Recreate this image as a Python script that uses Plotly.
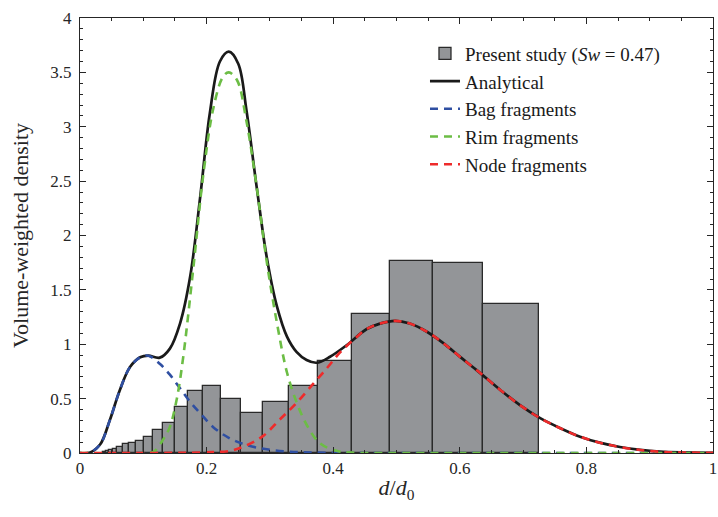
import plotly.graph_objects as go

# ---- histogram data (bin edges and volume-weighted density) ----
bin_edges = [0.0356, 0.0406, 0.0463, 0.0526, 0.0590, 0.0674, 0.0779, 0.0885,
             0.1011, 0.1158, 0.1316, 0.1500, 0.1711, 0.1948, 0.2227, 0.2543,
             0.2896, 0.3307, 0.3765, 0.4290, 0.4897, 0.5580, 0.6360, 0.7256]
bin_density = [0.007, 0.015, 0.025, 0.040, 0.058, 0.080, 0.095, 0.110,
               0.150, 0.210, 0.280, 0.420, 0.570, 0.620, 0.500, 0.370,
               0.470, 0.620, 0.850, 1.280, 1.770, 1.750, 1.370]

# ---- analytical (total) curve ----
total_x = [0, 0.016, 0.032, 0.047, 0.063, 0.079, 0.095, 0.108, 0.126, 0.142,
           0.158, 0.174, 0.19, 0.205, 0.221, 0.235, 0.25, 0.263, 0.279, 0.295,
           0.311, 0.327, 0.342, 0.358, 0.374, 0.395, 0.421, 0.453, 0.474, 0.498,
           0.521, 0.548, 0.574, 0.60, 0.627, 0.664, 0.695, 0.727, 0.758, 0.79,
           0.821, 0.853, 0.885, 0.916, 0.95, 1.0]
total_y = [0, 0.005, 0.08, 0.30, 0.58, 0.79, 0.88, 0.895, 0.877, 0.96,
           1.19, 1.62, 2.36, 3.12, 3.60, 3.69, 3.58, 3.15, 2.45, 1.80,
           1.35, 1.07, 0.93, 0.855, 0.83, 0.885, 0.99, 1.14, 1.19, 1.215,
           1.19, 1.115, 1.01, 0.886, 0.76, 0.58, 0.44, 0.32, 0.23, 0.15,
           0.095, 0.055, 0.028, 0.012, 0.005, 0.002]

# ---- bag fragments ----
bag_x = [0, 0.016, 0.032, 0.047, 0.063, 0.079, 0.095, 0.108, 0.126, 0.142,
         0.158, 0.174, 0.19, 0.21, 0.235, 0.263, 0.295, 0.332, 0.37, 0.42,
         0.5, 0.6, 0.7, 0.8, 0.9, 1.0]
bag_y = [0, 0.005, 0.08, 0.30, 0.58, 0.79, 0.88, 0.895, 0.82, 0.72,
         0.595, 0.47, 0.365, 0.24, 0.14, 0.073, 0.034, 0.012, 0.004, 0.001,
         0, 0, 0, 0, 0, 0]

# ---- rim fragments ----
rim_x = [0, 0.10, 0.116, 0.132, 0.142, 0.153, 0.163, 0.179, 0.195, 0.211,
         0.226, 0.235, 0.248, 0.263, 0.279, 0.295, 0.311, 0.327, 0.342, 0.358,
         0.379, 0.405, 0.43, 0.5, 0.6, 0.8, 1.0]
rim_y = [0, 0, 0.01, 0.13, 0.24, 0.50, 0.88, 1.70, 2.57, 3.18,
         3.46, 3.50, 3.43, 3.05, 2.45, 1.76, 1.20, 0.74, 0.47, 0.26,
         0.09, 0.02, 0.003, 0, 0, 0, 0]

# ---- node fragments ----
node_x = [0, 0.15, 0.2, 0.237, 0.263, 0.29, 0.316, 0.342, 0.369, 0.39,
          0.41, 0.432, 0.453, 0.474, 0.498, 0.521, 0.548, 0.574, 0.60, 0.627,
          0.664, 0.695, 0.727, 0.758, 0.79, 0.821, 0.853, 0.885, 0.916, 0.95, 1.0]
node_y = [0, 0.001, 0.006, 0.02, 0.07, 0.16, 0.31, 0.46, 0.64, 0.78,
          0.92, 1.04, 1.14, 1.19, 1.215, 1.19, 1.115, 1.01, 0.886, 0.76,
          0.58, 0.44, 0.32, 0.23, 0.15, 0.095, 0.055, 0.028, 0.012, 0.005, 0.002]

x_ticks = [0, 0.2, 0.4, 0.6, 0.8, 1]
x_ticktext = ["0", "0.2", "0.4", "0.6", "0.8", "1"]
y_ticks = [0, 0.5, 1, 1.5, 2, 2.5, 3, 3.5, 4]
y_ticktext = ["0", "0.5", "1", "1.5", "2", "2.5", "3", "3.5", "4"]

centers = [(a + b) / 2 for a, b in zip(bin_edges[:-1], bin_edges[1:])]
widths = [b - a for a, b in zip(bin_edges[:-1], bin_edges[1:])]

FONT = "Liberation Serif"
INK = "#262626"
fig = go.Figure()
fig.add_trace(go.Bar(x=centers, y=bin_density, width=widths,
                     marker=dict(color="#939598", line=dict(color="#2a2a2a", width=1.3)),
                     name="Present study (<i>Sw</i> = 0.47)"))
fig.add_trace(go.Scatter(x=total_x, y=total_y, mode="lines", line_shape="spline",
                         line=dict(color="#1a1a1a", width=2.7), name="Analytical"))
dash = "8px,6px"
fig.add_trace(go.Scatter(x=bag_x, y=bag_y, mode="lines", line_shape="spline",
                         line=dict(color="#2f4fa2", width=2.6, dash=dash), name="Bag fragments"))
fig.add_trace(go.Scatter(x=rim_x, y=rim_y, mode="lines", line_shape="spline",
                         line=dict(color="#6cbd45", width=2.6, dash=dash), name="Rim fragments"))
fig.add_trace(go.Scatter(x=node_x, y=node_y, mode="lines", line_shape="spline",
                         line=dict(color="#ee2b2b", width=2.6, dash=dash), name="Node fragments"))

axis_common = dict(showline=True, linecolor=INK, linewidth=1, mirror="ticks",
                   ticks="inside", ticklen=6, tickcolor=INK, showgrid=False,
                   zeroline=False, automargin=False,
                   tickfont=dict(family=FONT, size=17, color=INK))
fig.update_xaxes(range=[0, 1], tickvals=x_ticks, ticktext=x_ticktext,
                 minor=dict(dtick=0.05, ticks="inside", ticklen=3, tickcolor=INK),
                 title=dict(text="<i>d</i>/<i>d</i><sub>0</sub>",
                            font=dict(family=FONT, size=22, color=INK), standoff=2),
                 **axis_common)
fig.update_yaxes(range=[0, 4], tickvals=y_ticks, ticktext=y_ticktext,
                 minor=dict(dtick=0.1, ticks="inside", ticklen=3, tickcolor=INK),
                 ticklabelstandoff=4,
                 title=dict(text="Volume-weighted density",
                            font=dict(family=FONT, size=22, color=INK), standoff=15),
                 **axis_common)
fig.update_layout(width=718, height=517, plot_bgcolor="white", paper_bgcolor="white",
                  margin=dict(l=80, r=5, t=18, b=64), bargap=0,
                  legend=dict(x=0.545, y=0.962, xanchor="left", yanchor="top",
                              bgcolor="rgba(255,255,255,0)",
                              font=dict(family=FONT, size=19, color="#1a1a1a")),
                  font=dict(family=FONT))
fig.write_html("out.html", config={"displayModeBar": False},
               post_script="document.body.style.margin='0px';")
